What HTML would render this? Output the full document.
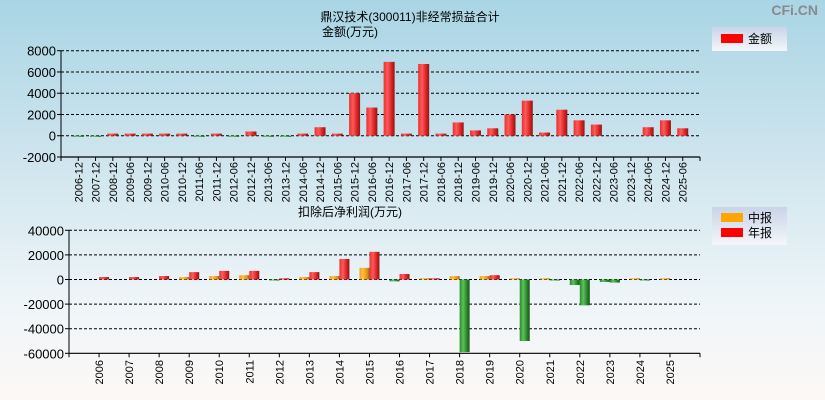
<!DOCTYPE html>
<html><head><meta charset="utf-8">
<style>
html,body{margin:0;padding:0;}
body{width:825px;height:400px;overflow:hidden;background:linear-gradient(to bottom,#a9d5e5 0%,#cfe5ee 40%,#eef5f8 75%,#fdf8f6 100%);font-family:"Liberation Sans","Noto Sans CJK SC",sans-serif;}
svg{position:absolute;left:0;top:0;}
</style></head>
<body>
<svg id="c" width="825" height="400" xmlns="http://www.w3.org/2000/svg">
<defs>
<linearGradient id="gr" x1="0" x2="1"><stop offset="0" stop-color="#e83030"/><stop offset="0.35" stop-color="#ff5a5a"/><stop offset="0.8" stop-color="#d01818"/><stop offset="1" stop-color="#802020"/></linearGradient>
<linearGradient id="gg" x1="0" x2="1"><stop offset="0" stop-color="#2a8a2a"/><stop offset="0.35" stop-color="#5cc05c"/><stop offset="0.8" stop-color="#1f7a1f"/><stop offset="1" stop-color="#205020"/></linearGradient>
<linearGradient id="go" x1="0" x2="1"><stop offset="0" stop-color="#f0a020"/><stop offset="0.35" stop-color="#ffc040"/><stop offset="0.8" stop-color="#e09010"/><stop offset="1" stop-color="#906020"/></linearGradient>
<linearGradient id="lg" x1="0" x2="0" y1="0" y2="1"><stop offset="0" stop-color="#c8d4e8"/><stop offset="1" stop-color="#f4f6fa"/></linearGradient>
</defs>
<text x="818" y="15" text-anchor="end" font-size="14" fill="#8a8a8a" font-weight="bold">CFi.CN</text>
<text x="410" y="21" text-anchor="middle" font-size="12" fill="#000">鼎汉技术(300011)非经常损益合计</text>
<text x="350" y="36" text-anchor="middle" font-size="12" fill="#000">金额(万元)</text>
<text x="350" y="216" text-anchor="middle" font-size="12" fill="#000">扣除后净利润(万元)</text>
<g>
<rect x="712" y="27" width="75" height="24" fill="url(#lg)"/>
<rect x="721" y="34" width="22" height="9" fill="#ff0000"/>
<text x="748" y="43" font-size="12">金额</text>
</g>
<g>
<rect x="712" y="207" width="75" height="38" fill="url(#lg)"/>
<rect x="721" y="213" width="22" height="9" fill="#ffa500"/>
<text x="748" y="222" font-size="12">中报</text>
<rect x="721" y="228" width="22" height="9" fill="#ff0000"/>
<text x="748" y="237" font-size="12">年报</text>
</g>
<g id="top"></g>
<g id="bot"></g>
</svg>
<script>
const topCats=["2006-12","2007-12","2008-12","2009-06","2009-12","2010-06","2010-12","2011-06","2011-12","2012-06","2012-12","2013-06","2013-12","2014-06","2014-12","2015-06","2015-12","2016-06","2016-12","2017-06","2017-12","2018-06","2018-12","2019-06","2019-12","2020-06","2020-12","2021-06","2021-12","2022-06","2022-12","2023-06","2023-12","2024-06","2024-12","2025-06"];
const topVals=[-100,-100,200,200,200,200,200,-100,200,-100,400,-100,-100,200,800,200,4000,2650,6950,200,6750,200,1250,500,700,2000,3300,300,2450,1450,1050,0,0,800,1450,700];
const topTicks=[8000,6000,4000,2000,0,-2000];
const botCats=["2006","2007","2008","2009","2010","2011","2012","2013","2014","2015","2016","2017","2018","2019","2020","2021","2022","2023","2024","2025"];
const botMid=[null,null,null,2000,2800,3500,-500,2000,2800,9500,-1500,1000,2800,2800,1000,1000,-4500,-2000,1000,1000];
const botAnnual=[2000,2000,2800,6000,7000,7000,1000,6000,16700,22500,4500,1000,-59000,3500,-50000,-800,-21000,-2500,-800,null];
const botTicks=[40000,20000,0,-20000,-40000,-60000];
const NS="http://www.w3.org/2000/svg";
function mk(p,tag,a){const e=document.createElementNS(NS,tag);for(const k in a)e.setAttribute(k,a[k]);p.appendChild(e);return e;}
function axes(g,x0,x1,yf,ticks,tmax,tmin,nslots,cats,xc,labelY){
  ticks.forEach(t=>{
    const y=yf(t);
    if(t!==tmin){const l=mk(g,'line',{x1:x0,x2:x1,y1:y,y2:y,stroke:'#000','stroke-dasharray':'3,2','stroke-width':1});
    
    }
    const tk=mk(g,'line',{x1:x0-4,x2:x0,y1:y,y2:y,stroke:'#000'});
    
    
    const tx=mk(g,'text',{x:x0-5,y:y+5,'text-anchor':'end','font-size':13});
    tx.textContent=t;
    
    
  });
  const ya=mk(g,'line',{x1:x0,x2:x0,y1:yf(tmax),y2:yf(tmin),stroke:'#000'});
  
  
  const xa=mk(g,'line',{x1:x0,x2:x1,y1:yf(tmin),y2:yf(tmin),stroke:'#000','stroke-width':1.2});
  
  
  const sw=(x1-x0)/nslots;
  for(let i=0;i<=nslots;i++){const t=mk(g,'line',{x1:x0+i*sw,x2:x0+i*sw,y1:yf(tmin),y2:yf(tmin)+4,stroke:'#000'});
    
    }
  cats.forEach((c,i)=>{
    const x=xc(i)+4;
    const t=mk(g,'text',{x:0,y:0,'text-anchor':'end','font-size':11,transform:`translate(${x},${labelY}) rotate(-90)`});
    t.textContent=c;
    
    
  });
}
function bar(g,cx,w,v,yf,fill,name){
  if(v===null||v===0)return;
  const y0=yf(0),y1=yf(v);
  const col=v<0?'url(#gg)':fill;
  const r=mk(g,'rect',{x:cx-w/2,y:Math.min(y0,y1),width:w,height:Math.max(Math.abs(y1-y0),1),fill:col});
  
  
}
// top chart
(function(){
  const g=document.getElementById('top');
  const x0=61,x1=700,ytop=50.7,ybot=157,tmax=8000,tmin=-2000;
  const yf=v=>ytop+(tmax-v)/(tmax-tmin)*(ybot-ytop);
  const n=topCats.length+1,sw=(x1-x0)/n;
  const xc=i=>x0+(i+1)*sw;
  axes(g,x0,x1,yf,topTicks,tmax,tmin,n,topCats,xc,162);
  topVals.forEach((v,i)=>bar(g,xc(i),11,v,yf,'url(#gr)','bar-amount-'+topCats[i]));
})();
// bottom chart
(function(){
  const g=document.getElementById('bot');
  const x0=69,x1=700,ytop=230.3,ybot=353.3,tmax=40000,tmin=-60000;
  const yf=v=>ytop+(tmax-v)/(tmax-tmin)*(ybot-ytop);
  const n=botCats.length+1,sw=(x1-x0)/n;
  const xc=i=>x0+(i+1)*sw;
  axes(g,x0,x1,yf,botTicks,tmax,tmin,n,botCats,xc,360);
  botMid.forEach((v,i)=>bar(g,xc(i)-5,10,v,yf,'url(#go)','bar-interim-'+botCats[i]));
  botAnnual.forEach((v,i)=>bar(g,xc(i)+5,10,v,yf,'url(#gr)','bar-annual-'+botCats[i]));
})();
</script>
</body></html>
